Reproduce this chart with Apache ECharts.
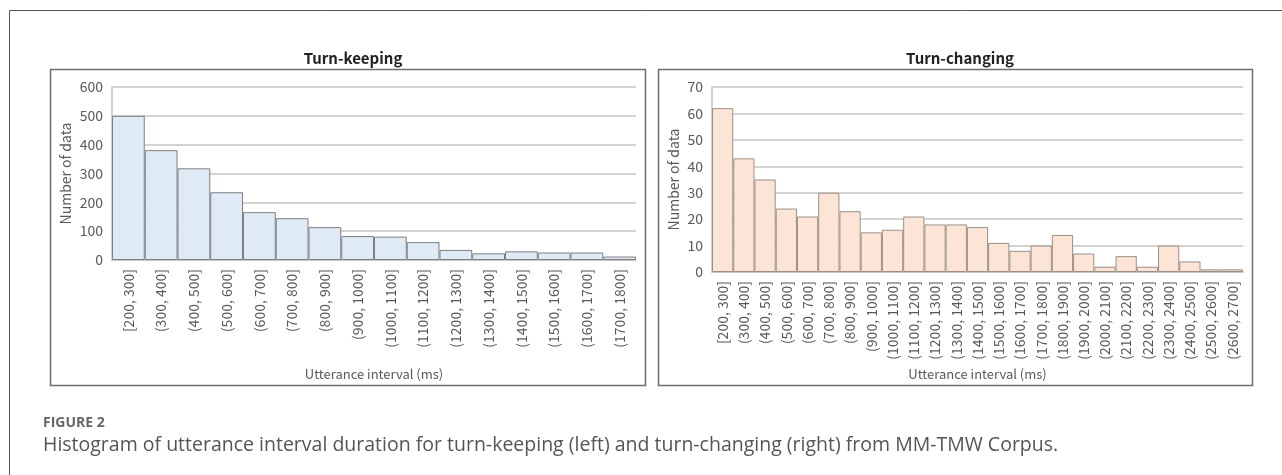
<!DOCTYPE html>
<html>
<head>
<meta charset="utf-8">
<script src="https://cdn.jsdelivr.net/npm/echarts@6/dist/echarts.min.js"></script>
<style>
html,body{margin:0;padding:0;background:#fff;}
#c{width:1282px;height:475px;}
</style>
</head>
<body>
<div id="c"></div>
<script>
const keepCategories = ["[200, 300]","(300, 400]","(400, 500]","(500, 600]","(600, 700]","(700, 800]","(800, 900]","(900, 1000]","(1000, 1100]","(1100, 1200]","(1200, 1300]","(1300, 1400]","(1400, 1500]","(1500, 1600]","(1600, 1700]","(1700, 1800]"];
const keepValues = [500, 381, 318, 235, 166, 145, 114, 83, 81, 62, 35, 23, 30, 26, 26, 12];
const changeCategories = ["[200, 300]","(300, 400]","(400, 500]","(500, 600]","(600, 700]","(700, 800]","(800, 900]","(900, 1000]","(1000, 1100]","(1100, 1200]","(1200, 1300]","(1300, 1400]","(1400, 1500]","(1500, 1600]","(1600, 1700]","(1700, 1800]","(1800, 1900]","(1900, 2000]","(2000, 2100]","(2100, 2200]","(2200, 2300]","(2300, 2400]","(2400, 2500]","(2500, 2600]","(2600, 2700]"];
const changeValues = [62, 43, 35, 24, 21, 30, 23, 15, 16, 21, 18, 18, 17, 11, 8, 10, 14, 7, 2, 6, 2, 10, 4, 1, 1];
const keepTicks = [0, 100, 200, 300, 400, 500, 600];
const changeTicks = [0, 10, 20, 30, 40, 50, 60, 70];

const FONT = '"Noto Sans CJK JP", "Noto Sans", sans-serif';
const TXT = '#595959';
const GRID = '#c4c4c4';

function yAxis(idx, ticks, gap) {
  return {
    type: 'value', gridIndex: idx,
    min: ticks[0], max: ticks[ticks.length - 1], interval: ticks[1] - ticks[0],
    name: 'Number of data', nameLocation: 'middle', nameGap: gap, nameRotate: 90,
    nameTextStyle: {color: TXT, fontSize: 14, fontFamily: FONT},
    axisLine: {show: true, lineStyle: {color: GRID, width: 1.5}},
    axisTick: {show: false},
    axisLabel: {color: TXT, fontSize: 14, fontFamily: FONT, margin: 9},
    splitLine: {show: true, lineStyle: {color: GRID, width: 1.5}}
  };
}
function xAxis(idx, cats, gap) {
  return {
    type: 'category', gridIndex: idx, data: cats,
    name: 'Utterance interval (ms)', nameLocation: 'middle', nameGap: gap,
    nameTextStyle: {color: TXT, fontSize: 13, fontFamily: FONT},
    axisLine: {show: true, lineStyle: {color: GRID, width: 1.5}},
    axisTick: {show: false},
    axisLabel: {color: TXT, fontSize: 14, fontFamily: FONT, rotate: 90, interval: 0, margin: 9}
  };
}

const chart = echarts.init(document.getElementById('c'), null, {renderer: 'canvas'});
chart.setOption({
  animation: false,
  backgroundColor: '#fff',
  title: [
    {text: 'Turn-keeping', left: 348, top: 46, textAlign: 'center',
     textStyle: {fontSize: 15, fontWeight: 'bold', color: '#222', fontFamily: FONT}},
    {text: 'Turn-changing', left: 955, top: 46, textAlign: 'center',
     textStyle: {fontSize: 15, fontWeight: 'bold', color: '#222', fontFamily: FONT}}
  ],
  grid: [
    {left: 112, top: 87, width: 524, height: 173},
    {left: 712, top: 87, width: 531, height: 185}
  ],
  xAxis: [xAxis(0, keepCategories, 108), xAxis(1, changeCategories, 96)],
  yAxis: [yAxis(0, keepTicks, 39), yAxis(1, changeTicks, 31)],
  series: [
    {type: 'bar', xAxisIndex: 0, yAxisIndex: 0, data: keepValues, barCategoryGap: '0%',
     itemStyle: {color: '#deebf7', borderColor: '#7f7f7f', borderWidth: 1}},
    {type: 'bar', xAxisIndex: 1, yAxisIndex: 1, data: changeValues, barCategoryGap: '0%',
     itemStyle: {color: '#fce5d6', borderColor: '#9a9088', borderWidth: 1}}
  ],
  graphic: [
    {type: 'rect', shape: {x: 9.5, y: 10.5, width: 1300, height: 500}, silent: true,
     style: {fill: null, stroke: '#555', lineWidth: 1}},
    {type: 'rect', shape: {x: 50.5, y: 69.5, width: 595, height: 316}, silent: true,
     style: {fill: null, stroke: '#6e6e6e', lineWidth: 1.5}},
    {type: 'rect', shape: {x: 658.5, y: 69.5, width: 594, height: 316}, silent: true,
     style: {fill: null, stroke: '#6e6e6e', lineWidth: 1.5}},
    {type: 'text', left: 43, top: 416, silent: true,
     style: {text: 'FIGURE 2', fontSize: 14, fontWeight: 'bold', fill: '#666', fontFamily: '"Open Sans", sans-serif'}},
    {type: 'text', left: 43, top: 435, silent: true,
     style: {text: 'Histogram of utterance interval duration for turn-keeping (left) and turn-changing (right) from MM-TMW Corpus.', fontSize: 19.5, fill: '#555', fontFamily: '"Open Sans", sans-serif'}}
  ]
});
</script>
</body>
</html>
